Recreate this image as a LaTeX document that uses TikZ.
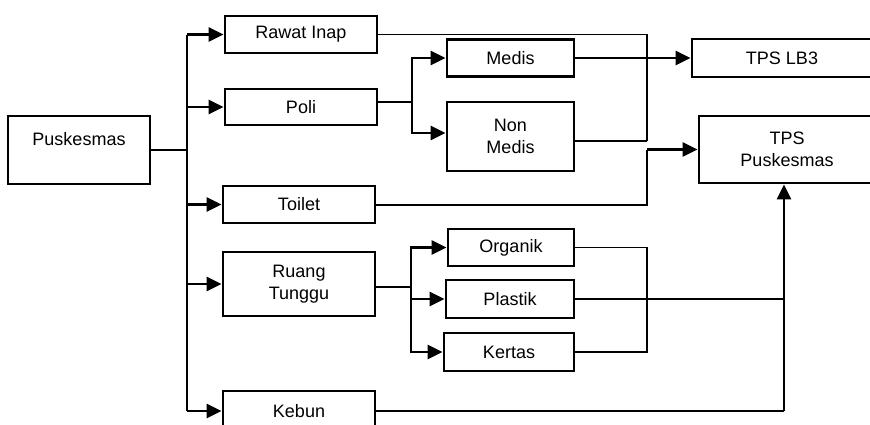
\documentclass[tikz,border=0pt]{standalone}
\usepackage{fontspec}
\setmainfont{Liberation Sans}
\usetikzlibrary{arrows.meta}
\tikzset{
  box/.style={draw, line width=2.8pt, inner sep=0pt, align=center,
    font=\fontsize{18}{22}\selectfont},
  link/.style={line width=2.8pt},
  mid/.style={line width=2pt},
  fine/.style={line width=1.3pt},
  arr/.style={link, -{Triangle[length=15pt,width=14pt]}}
}
\begin{document}
\begin{tikzpicture}[x=1pt,y=-1pt]
  \fill[white] (0,0) rectangle (870,424);
  \useasboundingbox (0,0) rectangle (870,424);
  % boxes
  \node[box, minimum width=142pt, minimum height=68pt] (pusk) at (79,150) {Puskesmas\\~};
  \node[box, minimum width=152pt, minimum height=37pt] (rawat) at (301,34.5) {Rawat Inap};
  \node[box, minimum width=152pt, minimum height=36pt] (poli) at (301,107) {Poli};
  \node[box, minimum width=152pt, minimum height=37pt] (toilet) at (299,204.5) {Toilet};
  \node[box, minimum width=152pt, minimum height=64pt] (ruang) at (299,284) {Ruang\\Tunggu};
  \node[box, minimum width=152pt, minimum height=40pt] (kebun) at (299,411) {Kebun};
  \node[box, minimum width=127pt, minimum height=37pt] (medis) at (510.5,58) {Medis};
  \node[box, minimum width=127pt, minimum height=69pt] (nonmedis) at (510.5,136.5) {Non\\Medis};
  \node[box, minimum width=180pt, minimum height=38pt] (lbtiga) at (782,58) {TPS LB3};
  \node[box, minimum width=176pt, minimum height=67pt] (tpspusk) at (787,149.5) {TPS\\Puskesmas};
  \node[box, minimum width=126pt, minimum height=37pt] (organik) at (511,247.5) {Organik};
  \node[box, minimum width=128pt, minimum height=38pt] (plastik) at (510,299) {Plastik};
  \node[box, minimum width=130pt, minimum height=38pt] (kertas) at (509,352) {Kertas};
  % trunk from Puskesmas
  \coordinate (tt) at (187,33);
  \draw[mid] (pusk.east) -- (pusk.east -| tt);
  \draw[link] (rawat.west -| tt) -- (kebun.west -| tt);
  \foreach \n in {rawat,poli,toilet,ruang,kebun}
    \draw[arr] (\n.west -| tt) -- (\n.west);
  % Poli split
  \coordinate (pj) at (412,102);
  \draw[link] (poli.east |- pj) -- (pj);
  \draw[arr] (pj) |- (medis.west);
  \draw[arr] (pj) |- ([yshift=3.5pt]nonmedis.west);
  \draw[arr] (medis.east) -- (lbtiga.west);
  % to TPS Puskesmas
  \coordinate (cj) at (647,141);
  \draw[fine] (rawat.east) -| (cj);
  \draw[fine] (nonmedis.east |- cj) -- (cj);
  \draw[mid] (toilet.east) -- (toilet.east -| cj) -- (tpspusk.west -| cj);
  \draw[arr] (tpspusk.west -| cj) -- (tpspusk.west);
  % Ruang Tunggu split
  \coordinate (rj) at (411,287);
  \draw[link] (ruang.east |- rj) -- (rj);
  \foreach \n in {organik,plastik,kertas}
    \draw[arr] (rj) |- (\n.west);
  \draw[fine] (organik.east) -| (kertas.east -| cj) -- (kertas.east);
  \coordinate (kj) at (784,411);
  \draw[fine] (plastik.east) -- (plastik.east -| kj);
  \draw[mid] (kebun.east) -- (kj);
  \draw[arr] (kj) -- (kj |- tpspusk.south);
\end{tikzpicture}
\end{document}
